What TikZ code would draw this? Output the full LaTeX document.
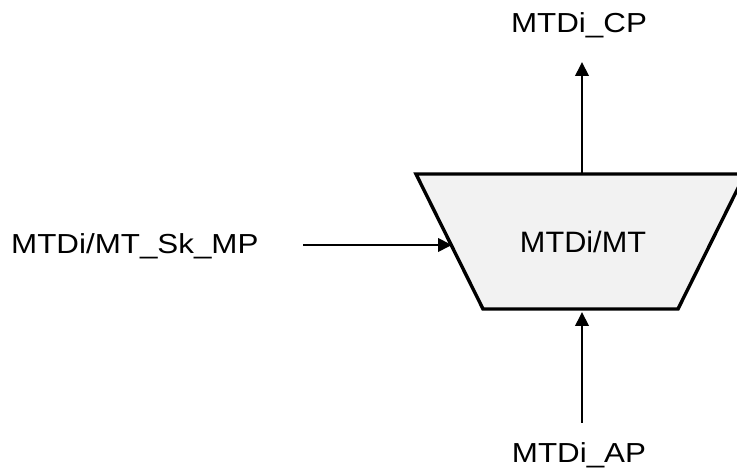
\documentclass[tikz,border=0pt]{standalone}
\usepackage{fontspec}
\setmainfont{Liberation Sans}
\newfontfamily\lblfont[FakeStretch=1.14]{Liberation Sans}
\newfontfamily\mtfont[FakeStretch=1.04]{Liberation Sans}
\usetikzlibrary{arrows.meta}
\definecolor{boxfill}{RGB}{242,242,242}
\tikzset{
  conn/.style={line width=2pt,-{Triangle[length=14pt,width=13.5pt]}},
  blockedge/.style={line width=3.4pt,fill=boxfill,line join=miter},
  lbl/.style={inner sep=0pt,font=\lblfont\fontsize{27.5pt}{31pt}\selectfont},
  mtlbl/.style={inner sep=0pt,font=\mtfont\fontsize{29.5pt}{33pt}\selectfont}
}
\begin{document}
\begin{tikzpicture}[x=1pt,y=1pt]
\useasboundingbox (0,0) rectangle (737,474);
\clip (0,0) rectangle (737,474);
% trapezoid block
\coordinate (tl) at (416,300);
\coordinate (tr) at (745,300);
\coordinate (br) at (678,165);
\coordinate (bl) at (483,165);
\draw[blockedge] (tl) -- (tr) -- (br) -- (bl) -- cycle;
\node[mtlbl,anchor=base] (mt) at (583,221.3) {MTDi/MT};
% labels
\node[lbl,anchor=base] (cp) at (579,441) {MTDi\_CP};
\node[lbl,anchor=base] (ap) at (579,11.3) {MTDi\_AP};
\node[lbl,anchor=base west] (sk) at (11,220) {MTDi/MT\_Sk\_MP};
% connector end points
\coordinate (topout) at (582,300);
\coordinate (cpend) at (582,412);
\coordinate (apstart) at (582,51);
\coordinate (botin) at (582,162);
\coordinate (skstart) at (303,229);
\coordinate (leftin) at (452,229);
% connectors
\draw[conn] (topout) -- (cpend);
\draw[conn] (apstart) -- (botin);
\draw[conn] (skstart) -- (leftin);
\end{tikzpicture}
\end{document}
